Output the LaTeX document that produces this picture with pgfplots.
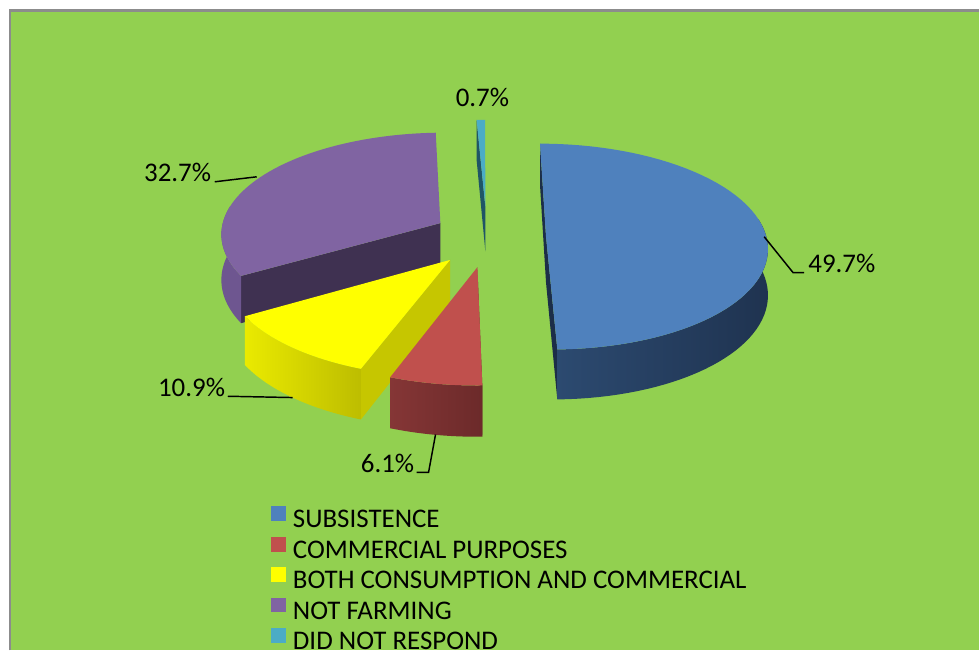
\documentclass[border=0pt]{standalone}
\usepackage{pgfplots}
\pgfplotsset{compat=1.18}
\usepackage{fontspec}
\setmainfont{Carlito}

\definecolor{bg}{HTML}{92D050}
\definecolor{frame}{HTML}{8C8C8C}
\definecolor{blueT}{HTML}{4F81BD}
\definecolor{blueSL}{HTML}{2C4A70}
\definecolor{blueSR}{HTML}{1F3350}
\definecolor{blueR}{HTML}{1C2E48}
\definecolor{redT}{HTML}{C0504D}
\definecolor{redSL}{HTML}{853636}
\definecolor{redSR}{HTML}{6C2A2A}
\definecolor{yelT}{HTML}{FFFF00}
\definecolor{yelSL}{HTML}{EAEA00}
\definecolor{yelSR}{HTML}{BDBD00}
\definecolor{yelR}{HTML}{C6C600}
\definecolor{purT}{HTML}{8064A2}
\definecolor{purS}{HTML}{6E5690}
\definecolor{purR}{HTML}{3F3151}
\definecolor{cyaT}{HTML}{4BACC6}
\definecolor{cyaR}{HTML}{1F5566}

% data (percent)
\def\vA{49.7}% SUBSISTENCE
\def\vB{6.1}% COMMERCIAL PURPOSES
\def\vC{10.9}% BOTH CONSUMPTION AND COMMERCIAL
\def\vD{32.7}% NOT FARMING
\def\vE{0.7}% DID NOT RESPOND
\pgfmathsetmacro\tot{\vA+\vB+\vC+\vD+\vE}
\pgfmathsetmacro\tA{360*(\vA/\tot)}
\pgfmathsetmacro\tB{360*((\vA+\vB)/\tot)}
\pgfmathsetmacro\tC{360*((\vA+\vB+\vC)/\tot)}
\pgfmathsetmacro\tD{360*((\vA+\vB+\vC+\vD)/\tot)}

\def\R{222}
\def\D{46}

% radial face: #1 angle, #2 a, #3 b, #4 style
\newcommand\radial[4]{%
 \addplot[#4, draw=none, forget plot, domain=0:3, samples=4, variable=\t]
 ({px(#2,#3,\R*(\t>0.5)*(\t<2.5),#1)}, {py(#3,\R*(\t>0.5)*(\t<2.5),#1,\D*(\t>1.5))});
}
% outer strip: #1 from, #2 to, #3 a, #4 b, #5 style
\newcommand\strip[5]{%
 \addplot[#5, draw=none, forget plot, domain=0:81, samples=82, variable=\t]
 ({px(#3,#4,\R,(\t<40.5)*(#1+(#2-#1)*\t/40)+(\t>40.5)*(#2-(#2-#1)*(\t-41)/40))},
  {py(#4,\R,(\t<40.5)*(#1+(#2-#1)*\t/40)+(\t>40.5)*(#2-(#2-#1)*(\t-41)/40),\D*(\t<40.5))});
}
% top face: #1 from, #2 to, #3 a, #4 b, #5 style
\newcommand\topface[5]{%
 \addplot[#5, draw=none, forget plot, domain=0:61, samples=62, variable=\t]
 ({px(#3,#4,\R*(\t>0.5),#1+(#2-#1)*(\t-1)/60)}, {py(#4,\R*(\t>0.5),#1+(#2-#1)*(\t-1)/60,0)});
}

\newcommand\lblfont{\fontsize{20.2}{24}\selectfont}

\begin{document}
\begin{tikzpicture}[declare function={
 pw(\pb,\pr,\pang)=\pb-\pr*0.47*cos(\pang);
 ps(\pb,\pr,\pang)=1+0.0009*pw(\pb,\pr,\pang);
 px(\pa,\pb,\pr,\pang)=483+ps(\pb,\pr,\pang)*(\pa+\pr*sin(\pang));
 py(\pb,\pr,\pang,\ph)=407-ps(\pb,\pr,\pang)*(pw(\pb,\pr,\pang)+\ph);
}]
\begin{axis}[
 x=0.75pt, y=0.75pt,
 xmin=0, xmax=980, ymin=0, ymax=651,
 hide axis, clip=false,
 legend image code/.code={\fill[#1, draw=none] (0pt,-1.2pt) rectangle (11.25pt,10.05pt);},
 legend cell align=left,
 legend style={at={(axis cs:271,144.5)}, anchor=north west, draw=none, fill=none,
   inner sep=0pt, row sep=6.5pt, column sep=5.25pt,
   font=\lblfont,
   nodes={inner sep=0pt, text height=12.6pt, text depth=0pt}},
]
% background
\addplot[fill=white, draw=none, forget plot] coordinates {(0,0) (980,0) (980,651) (0,651)} -- cycle;
\addplot[fill=bg, draw=none, forget plot] coordinates {(10,0) (980,0) (980,640.5) (10,640.5)} -- cycle;
\addplot[draw=frame, line width=1.6pt, forget plot] coordinates {(10,0) (10,640.5) (980,640.5)};

% DID NOT RESPOND
\radial{\tD}{3}{-38}{fill=cyaR}
\topface{\tD}{360}{3}{-38}{fill=cyaT}
% NOT FARMING
\radial{\tC}{-43}{-21}{fill=purR}
\strip{\tC}{280}{-43}{-21}{fill=purS}
\topface{\tC}{\tD}{-43}{-21}{fill=purT}
% SUBSISTENCE
\radial{0}{64}{-7}{fill=blueR}
\radial{\tA}{64}{-7}{fill=blueR}
\strip{80}{\tA}{64}{-7}{left color=blueSL, right color=blueSR}
\topface{0}{\tA}{64}{-7}{fill=blueT}
% BOTH
\radial{\tB}{-32}{16}{fill=yelR}
\strip{\tB}{\tC}{-32}{16}{left color=yelSL, right color=yelSR}
\topface{\tB}{\tC}{-32}{16}{fill=yelT}
% COMMERCIAL
\radial{\tA}{-5}{23}{fill=redSR}
\strip{\tA}{\tB}{-5}{23}{left color=redSL, right color=redSR}
\topface{\tA}{\tB}{-5}{23}{fill=redT}

% leader lines
\addplot[black, line width=1.1pt, forget plot] coordinates {(765,414) (794,378) (805,378)};
\addplot[black, line width=1.1pt, forget plot] coordinates {(215,469) (257,474)};
\addplot[black, line width=1.1pt, forget plot] coordinates {(228,254.3) (293,253)};
\addplot[black, line width=1.1pt, forget plot] coordinates {(417,178) (429,178) (436,216)};

% labels
\node[anchor=base west, inner sep=0pt, font=\lblfont] at (axis cs:809,378) {49.7\%};
\node[anchor=base west, inner sep=0pt, font=\lblfont] at (axis cs:144,469) {32.7\%};
\node[anchor=base west, inner sep=0pt, font=\lblfont] at (axis cs:158,254) {10.9\%};
\node[anchor=base west, inner sep=0pt, font=\lblfont] at (axis cs:361,178) {6.1\%};
\node[anchor=base west, inner sep=0pt, font=\lblfont] at (axis cs:456,544) {0.7\%};

% legend
\addlegendimage{fill=blueT}\addlegendentry{SUBSISTENCE}
\addlegendimage{fill=redT}\addlegendentry{COMMERCIAL PURPOSES}
\addlegendimage{fill=yelT}\addlegendentry{BOTH CONSUMPTION AND COMMERCIAL}
\addlegendimage{fill=purT}\addlegendentry{NOT FARMING}
\addlegendimage{fill=cyaT}\addlegendentry{DID NOT RESPOND}
\end{axis}
\end{tikzpicture}
\end{document}
